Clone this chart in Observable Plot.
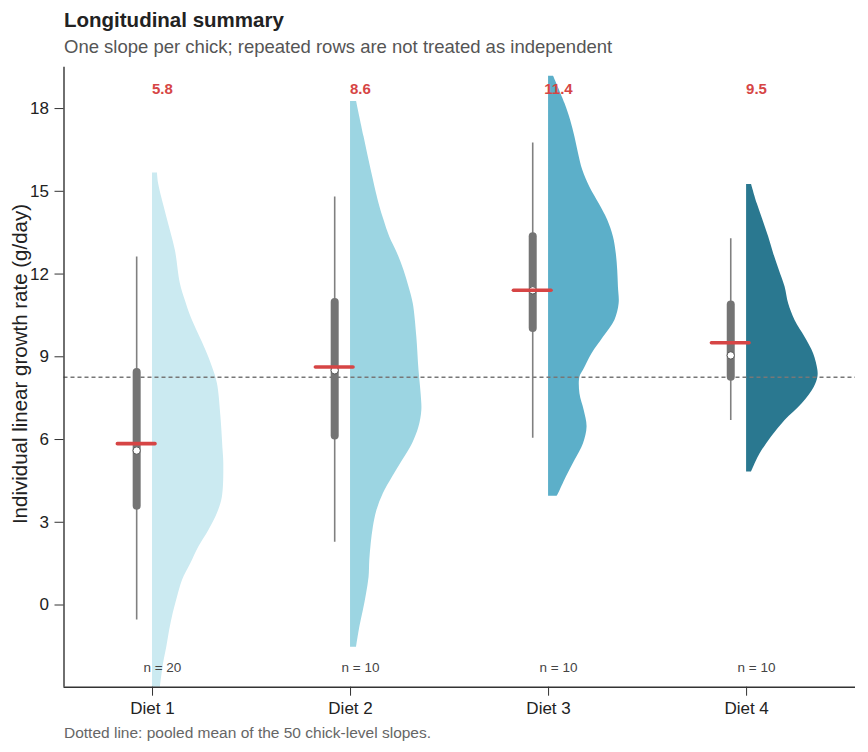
<!DOCTYPE html>
<html>
<head>
<meta charset="utf-8">
<script src="https://cdn.jsdelivr.net/npm/d3@7"></script>
<script src="https://cdn.jsdelivr.net/npm/@observablehq/plot@0.6"></script>
<style>
  html, body { margin: 0; padding: 0; background: #fff; }
  #wrap { position: relative; width: 868px; height: 752px; font-family: "Liberation Sans", Arial, sans-serif; }
  #title { position: absolute; left: 64px; top: 8px; font-size: 20.5px; line-height: 24px; font-weight: bold; color: #222; white-space: nowrap; }
  #subtitle { position: absolute; left: 64px; top: 35.5px; font-size: 18.5px; line-height: 22px; color: #555; white-space: nowrap; }
  #chart { position: absolute; left: 0; top: 60px; }
  #ytitle { position: absolute; left: 19.5px; top: 364px; font-size: 20.5px; line-height: 1; color: #222; white-space: nowrap;
            transform: translate(-50%, -50%) rotate(-90deg); }
  #caption { position: absolute; left: 64px; top: 723.5px; font-size: 15.5px; line-height: 18px; color: #666; white-space: nowrap; }
</style>
</head>
<body>
<div id="wrap">
  <div id="title">Longitudinal summary</div>
  <div id="subtitle">One slope per chick; repeated rows are not treated as independent</div>
  <div id="chart"></div>
  <div id="ytitle">Individual linear growth rate (g/day)</div>
  <div id="caption">Dotted line: pooled mean of the 50 chick-level slopes.</div>
</div>
<script>
// ---- data ----
const diets = ["Diet 1", "Diet 2", "Diet 3", "Diet 4"];
const nChicks = [20, 10, 10, 10];
const meanSlope = [5.85, 8.63, 11.41, 9.51];
const meanLabels = ["5.8", "8.6", "11.4", "9.5"];
const medianSlope = [5.60, 8.51, 11.41, 9.05];
const q1Slope = [3.58, 6.13, 10.03, 8.26];
const q3Slope = [8.43, 10.97, 13.35, 10.88];
const whiskerLow = [-0.54, 2.28, 6.05, 6.69];
const whiskerHigh = [12.62, 14.79, 16.75, 13.28];
const pooledMean = 8.26;
const yTicks = [0, 3, 6, 9, 12, 15, 18];
const violinColors = ["#cbeaf1", "#9cd5e2", "#5cafc9", "#2a7890"];

// half-violin outlines: slope value and relative density (1 = widest)
const d1Rate = [15.66, 15.28, 14.07, 12.86, 11.66, 11.04, 10.44, 9.23, 8.63, 8.03, 6.81, 5.60, 5.12, 3.91, 3.32, 2.70, 2.10, 1.51, 0.89, 0.28, -0.31, -0.92, -1.53, -2.12, -2.98, -3.5];
const d1Dens = [0.07, 0.085, 0.20, 0.32, 0.39, 0.46, 0.54, 0.75, 0.84, 0.91, 0.96, 0.99, 1.00, 0.98, 0.91, 0.79, 0.65, 0.54, 0.42, 0.35, 0.29, 0.24, 0.20, 0.155, 0.11, 0.09];
const d2Rate = [18.26, 16.97, 15.76, 14.55, 13.95, 13.34, 12.74, 12.13, 11.53, 10.92, 9.71, 8.51, 7.66, 7.05, 6.45, 5.85, 5.24, 4.64, 4.03, 3.43, 2.82, 2.22, 1.61, 1.01, 0.41, -0.20, -0.81, -1.53];
const d2Dens = [0.085, 0.19, 0.29, 0.40, 0.47, 0.55, 0.66, 0.75, 0.82, 0.88, 0.93, 0.96, 0.99, 1.0, 0.96, 0.87, 0.73, 0.59, 0.46, 0.37, 0.32, 0.29, 0.27, 0.26, 0.225, 0.18, 0.13, 0.085];
const d3Rate = [19.17, 18.18, 17.57, 16.97, 16.37, 15.76, 15.15, 14.55, 13.95, 13.34, 12.74, 12.13, 11.53, 10.92, 10.32, 9.71, 9.11, 8.51, 8.26, 7.66, 7.05, 6.45, 5.85, 5.24, 4.64, 4.03, 3.94];
const d3Dens = [0.07, 0.23, 0.31, 0.37, 0.42, 0.48, 0.58, 0.71, 0.83, 0.91, 0.95, 0.97, 0.98, 0.99, 0.93, 0.77, 0.61, 0.49, 0.44, 0.44, 0.50, 0.54, 0.49, 0.37, 0.25, 0.14, 0.12];
const d4Rate = [15.25, 14.55, 13.95, 13.34, 12.74, 12.13, 11.53, 10.92, 10.32, 9.71, 9.11, 8.51, 8.26, 7.90, 7.30, 6.69, 6.09, 5.48, 4.82];
const d4Dens = [0.07, 0.15, 0.23, 0.31, 0.38, 0.46, 0.54, 0.59, 0.68, 0.82, 0.94, 1.0, 1.0, 0.95, 0.78, 0.54, 0.35, 0.19, 0.07];

// ---- build tables ----
const violinWidth = 0.36;   // half-violin max width in x units
const boxOffset = -0.08;    // box sits just left of the violin
const rates = [d1Rate, d2Rate, d3Rate, d4Rate];
const dens = [d1Dens, d2Dens, d3Dens, d4Dens];
const violinRows = [];
diets.forEach((diet, i) => {
  rates[i].forEach((r, j) => {
    violinRows.push({diet, y: r, x0: i + 1, x1: i + 1 + dens[i][j] * violinWidth});
  });
});
const summary = diets.map((diet, i) => ({
  diet, pos: i + 1,
  n: nChicks[i], mean: meanSlope[i], meanLabel: meanLabels[i], median: medianSlope[i],
  q1: q1Slope[i], q3: q3Slope[i], lo: whiskerLow[i], hi: whiskerHigh[i]
}));

const xDomain = [0.553, 4.55];
const yDomain = [-2.98, 19.5];
const red = "#d64545";

const chart = Plot.plot({
  width: 868,
  height: 670,
  marginTop: 6.7,
  marginBottom: 43.3,
  marginLeft: 63.5,
  marginRight: 13,
  style: {fontFamily: "'Liberation Sans', Arial, sans-serif", fontSize: "17px", color: "#222", background: "white"},
  x: {type: "linear", domain: xDomain},
  y: {domain: yDomain},
  color: {domain: diets, range: violinColors},
  marks: [
    Plot.areaX(violinRows, {x1: "x0", x2: "x1", y: "y", z: "diet", fill: "diet", curve: "catmull-rom", clip: true}),
    Plot.ruleY([pooledMean], {stroke: "#777", strokeWidth: 1.4, strokeDasharray: "4,3"}),
    Plot.ruleX(summary, {x: d => d.pos + boxOffset, y1: "lo", y2: "hi", stroke: "#808080", strokeWidth: 1.6}),
    Plot.ruleX(summary, {x: d => d.pos + boxOffset, y1: "q1", y2: "q3", stroke: "#747474", strokeWidth: 8, strokeLinecap: "round"}),
    Plot.dot(summary, {x: d => d.pos + boxOffset, y: "median", r: 3.7, fill: "white", stroke: "#555", strokeWidth: 1}),
    Plot.ruleY(summary, {y: "mean", x1: d => d.pos + boxOffset - 0.095, x2: d => d.pos + boxOffset + 0.095, stroke: red, strokeWidth: 3.6, strokeLinecap: "round"}),
    Plot.text(summary, {x: d => d.pos + 0.05, y: 18.71, text: "meanLabel", fill: red, fontWeight: "bold", fontSize: 15}),
    Plot.text(summary, {x: d => d.pos + 0.05, y: -2.27, text: d => "n = " + d.n, fill: "#444", fontSize: 13.5}),
    Plot.ruleX([xDomain[0]], {stroke: "#333", strokeWidth: 1.4}),
    Plot.ruleY([yDomain[0]], {stroke: "#333", strokeWidth: 1.4}),
    Plot.axisY({ticks: yTicks, tickSize: 9, tickPadding: 6, label: null, stroke: "#333", fill: "#222", fontSize: 17}),
    Plot.axisX({ticks: [1, 2, 3, 4], tickFormat: d => diets[d - 1], tickSize: 9, tickPadding: 6, label: null, stroke: "#333", fill: "#222", fontSize: 17})
  ]
});
document.getElementById("chart").appendChild(chart);
</script>
</body>
</html>
